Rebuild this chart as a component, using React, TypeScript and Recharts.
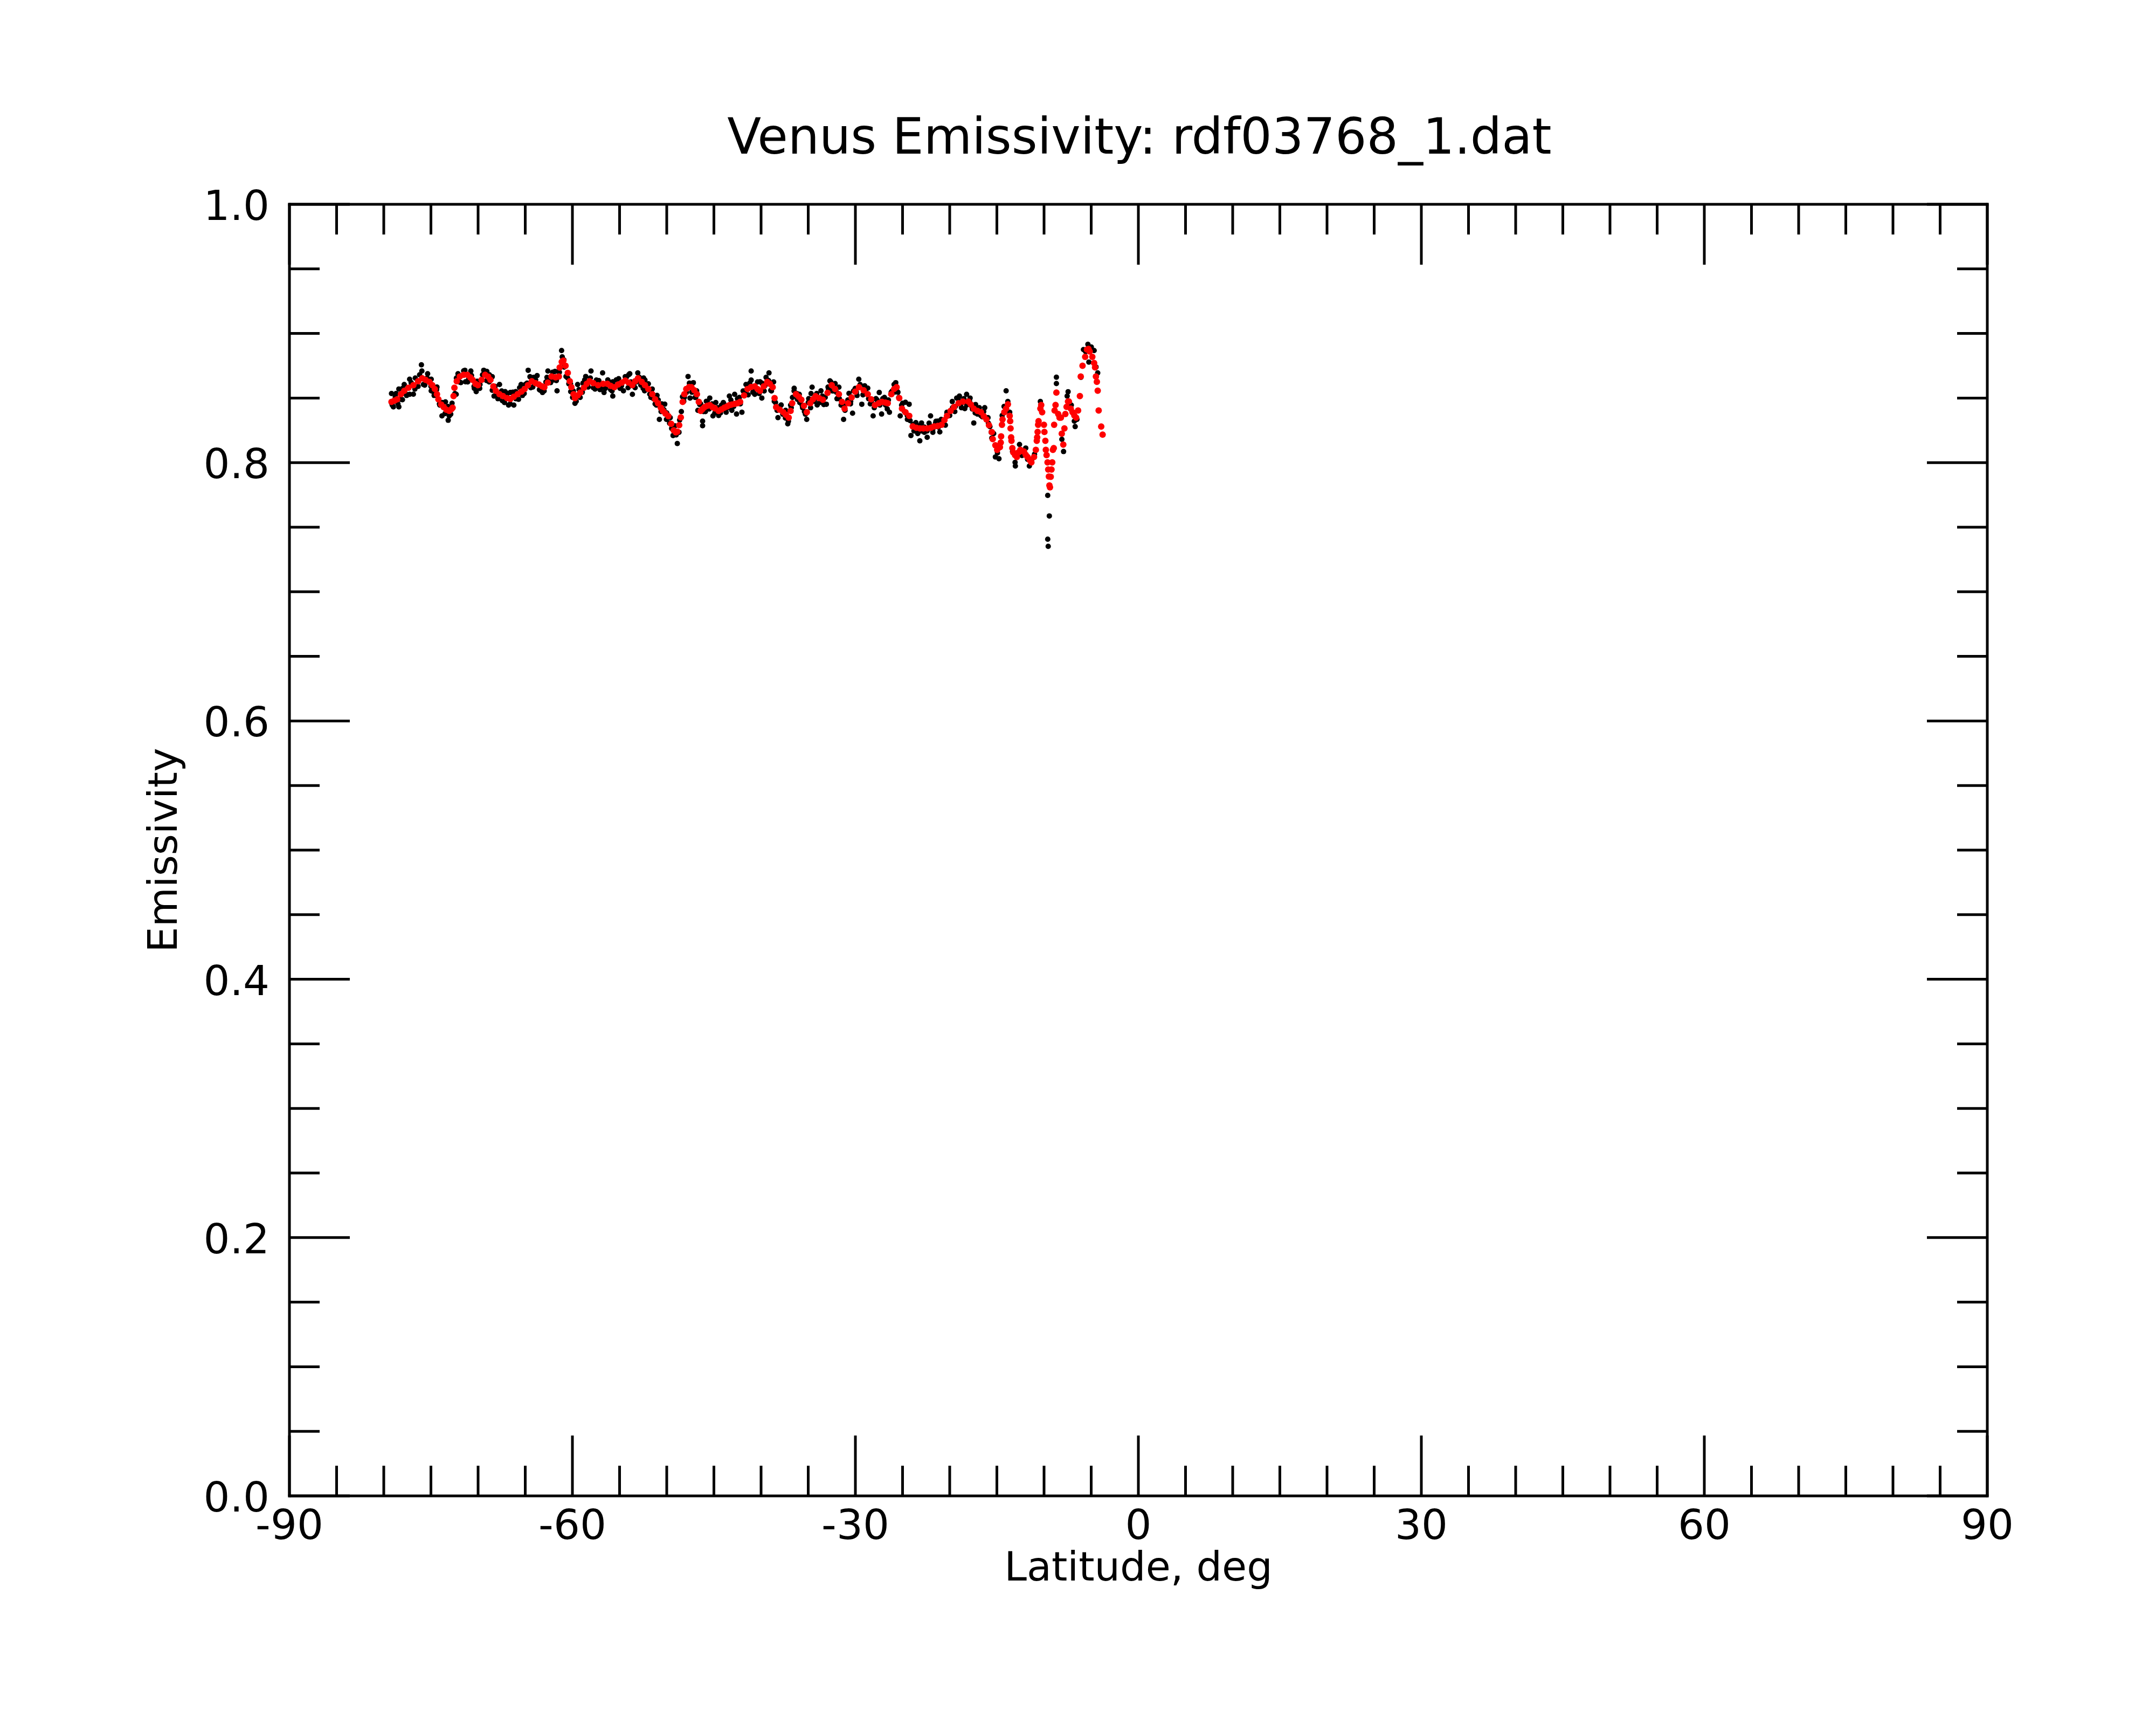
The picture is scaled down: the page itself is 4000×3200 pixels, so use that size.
import { ScatterChart, Scatter, XAxis, YAxis } from 'recharts';

// tick positions (degrees latitude / emissivity)
const xMajorTicks = [-90, -60, -30, 0, 30, 60, 90];
const xTicks = [
  -90, -85, -80, -75, -70, -65, -60, -55, -50, -45, -40, -35, -30, -25, -20, -15,
  -10, -5, 0, 5, 10, 15, 20, 25, 30, 35, 40, 45, 50, 55, 60, 65, 70, 75, 80, 85, 90,
];
const yTicks = [
  0, 0.05, 0.1, 0.15, 0.2, 0.25, 0.3, 0.35, 0.4, 0.45, 0.5, 0.55, 0.6, 0.65, 0.7,
  0.75, 0.8, 0.85, 0.9, 0.95, 1.0,
];

// smoothed emissivity (red), [latitude, emissivity]
const smoothed: [number, number][] = [
  [-79.18, 0.847], [-78.88, 0.848], [-78.58, 0.849], [-78.18, 0.853], [-77.83, 0.8556],
  [-77.38, 0.858], [-76.86, 0.86], [-76.36, 0.863], [-75.92, 0.8653], [-75.56, 0.864],
  [-75.16, 0.8625], [-74.86, 0.86], [-74.59, 0.857], [-74.36, 0.853], [-74.21, 0.849],
  [-73.91, 0.845], [-73.64, 0.843], [-73.36, 0.841], [-73.06, 0.84], [-72.81, 0.8415],
  [-72.7, 0.8425], [-72.6, 0.8515], [-72.51, 0.858], [-72.26, 0.863], [-71.94, 0.8667],
  [-71.53, 0.868], [-71.15, 0.868], [-70.83, 0.866], [-70.58, 0.864], [-70.28, 0.861],
  [-70.01, 0.86], [-69.63, 0.864], [-69.25, 0.868], [-68.93, 0.8665], [-68.69, 0.864],
  [-68.38, 0.859], [-68.12, 0.8556], [-67.73, 0.853], [-67.36, 0.8515], [-66.93, 0.85],
  [-66.58, 0.8493], [-66.21, 0.851], [-65.81, 0.853], [-65.41, 0.855], [-65.07, 0.857],
  [-64.71, 0.86], [-64.31, 0.863], [-63.91, 0.8615], [-63.55, 0.8605], [-63.21, 0.859],
  [-62.98, 0.8584], [-62.61, 0.862], [-62.21, 0.8667], [-61.78, 0.866], [-61.44, 0.8667],
  [-61.35, 0.8736], [-61.13, 0.878], [-60.96, 0.879], [-60.73, 0.875], [-60.49, 0.8695],
  [-60.28, 0.863], [-60.11, 0.8584], [-59.88, 0.853], [-59.73, 0.85], [-59.43, 0.852],
  [-59.16, 0.8542], [-58.78, 0.858], [-58.48, 0.861], [-58.18, 0.863], [-57.78, 0.8615],
  [-57.28, 0.86], [-56.75, 0.861], [-56.29, 0.861], [-55.95, 0.8595], [-55.55, 0.8584],
  [-55.15, 0.8605], [-54.75, 0.862], [-54.4, 0.8635], [-54.05, 0.862], [-53.65, 0.86],
  [-53.35, 0.863], [-53.05, 0.8653], [-52.65, 0.8625], [-52.31, 0.86], [-51.95, 0.857],
  [-51.53, 0.853], [-51.23, 0.849], [-50.93, 0.846], [-50.63, 0.8425], [-50.4, 0.84],
  [-50.13, 0.838], [-49.83, 0.836], [-49.53, 0.83], [-49.26, 0.825], [-49.03, 0.8235],
  [-48.88, 0.824], [-48.68, 0.829], [-48.51, 0.835], [-48.31, 0.847], [-48.13, 0.853],
  [-47.93, 0.857], [-47.63, 0.8585], [-47.38, 0.8584], [-47.08, 0.856], [-46.8, 0.853],
  [-46.6, 0.847], [-46.4, 0.84], [-46.2, 0.8415], [-46.0, 0.843], [-45.7, 0.844],
  [-45.44, 0.8445], [-45.15, 0.843], [-44.9, 0.842], [-44.5, 0.84], [-44.2, 0.8412],
  [-43.9, 0.8425], [-43.6, 0.8435], [-43.36, 0.8445], [-43.1, 0.845], [-42.8, 0.8455],
  [-42.5, 0.846], [-42.22, 0.847], [-41.8, 0.852], [-41.44, 0.857], [-41.07, 0.8585],
  [-40.67, 0.859], [-40.37, 0.857], [-40.11, 0.8556], [-39.72, 0.859], [-39.35, 0.8625],
  [-39.07, 0.861], [-38.77, 0.8584], [-38.57, 0.85], [-38.4, 0.843], [-38.02, 0.841],
  [-37.64, 0.839], [-37.37, 0.837], [-37.07, 0.8348], [-36.87, 0.84], [-36.7, 0.846],
  [-36.3, 0.853], [-36.0, 0.851], [-35.73, 0.8487], [-35.45, 0.844], [-35.15, 0.839],
  [-34.78, 0.846], [-34.5, 0.849], [-34.22, 0.8514], [-33.85, 0.85], [-33.45, 0.8487],
  [-32.95, 0.854], [-32.51, 0.86], [-32.15, 0.857], [-31.75, 0.853], [-31.42, 0.847],
  [-31.15, 0.8418], [-30.77, 0.846], [-30.4, 0.8505], [-30.02, 0.855], [-29.62, 0.8584],
  [-29.12, 0.856], [-28.69, 0.853], [-28.32, 0.849], [-27.93, 0.8445], [-27.52, 0.846],
  [-27.17, 0.847], [-26.82, 0.8465], [-26.57, 0.846], [-26.19, 0.853], [-25.89, 0.857],
  [-25.63, 0.8584], [-25.35, 0.85], [-25.06, 0.8418], [-24.69, 0.839], [-24.29, 0.8362],
  [-23.92, 0.828], [-23.54, 0.827], [-23.16, 0.8265], [-22.79, 0.8265], [-22.39, 0.8265],
  [-21.99, 0.827], [-21.65, 0.828], [-21.26, 0.8285], [-20.86, 0.8293], [-20.56, 0.833],
  [-20.29, 0.8362], [-19.91, 0.84], [-19.54, 0.8431], [-19.06, 0.846], [-18.59, 0.8472],
  [-18.02, 0.8472], [-17.76, 0.845], [-17.46, 0.8418], [-17.06, 0.84], [-16.69, 0.839],
  [-16.39, 0.836], [-16.11, 0.8335], [-15.84, 0.829], [-15.54, 0.8237],
  [-15.44, 0.8182], [-15.16, 0.8134], [-14.97, 0.8099], [-14.68, 0.812], [-14.59, 0.8155],
  [-14.55, 0.8203], [-14.46, 0.8293], [-14.4, 0.8335], [-14.21, 0.839], [-14.02, 0.8418],
  [-13.83, 0.8452], [-13.64, 0.8362], [-13.59, 0.8321], [-13.55, 0.8265], [-13.49, 0.8196],
  [-13.45, 0.8169], [-13.36, 0.8113], [-13.26, 0.8079], [-13.07, 0.8058], [-12.88, 0.8044],
  [-12.69, 0.808], [-12.51, 0.8099], [-12.32, 0.809], [-12.13, 0.8086], [-11.94, 0.806],
  [-11.75, 0.8044], [-11.51, 0.802], [-11.34, 0.8002], [-11.06, 0.8044], [-10.87, 0.8099],
  [-10.77, 0.8169], [-10.73, 0.8196], [-10.68, 0.8238], [-10.63, 0.8293], [-10.58, 0.8321],
  [-10.39, 0.8418], [-10.3, 0.8446], [-10.2, 0.839], [-10.01, 0.8293], [-9.96, 0.8238],
  [-9.86, 0.8169], [-9.81, 0.8099], [-9.73, 0.8058], [-9.63, 0.8002], [-9.56, 0.7947],
  [-9.49, 0.7892], [-9.43, 0.7823], [-9.37, 0.7809], [-9.29, 0.789], [-9.21, 0.7947],
  [-9.13, 0.8002], [-9.06, 0.8099], [-8.97, 0.8113], [-8.93, 0.8293], [-8.88, 0.8404],
  [-8.78, 0.8446], [-8.69, 0.8542], [-8.5, 0.8376], [-8.36, 0.8348], [-8.21, 0.8348],
  [-8.12, 0.8224], [-7.96, 0.814], [-7.84, 0.8265], [-7.74, 0.8376], [-7.61, 0.8432],
  [-7.46, 0.8473], [-7.36, 0.8473], [-7.17, 0.8418], [-6.98, 0.839], [-6.79, 0.8365],
  [-6.6, 0.8348], [-6.39, 0.8404], [-6.2, 0.8515], [-6.11, 0.8667], [-5.92, 0.875],
  [-5.64, 0.8819], [-5.45, 0.8875], [-5.29, 0.888], [-5.16, 0.8861], [-4.88, 0.8819],
  [-4.69, 0.8771], [-4.59, 0.8737], [-4.5, 0.8667], [-4.4, 0.8626], [-4.31, 0.8557],
  [-4.21, 0.8404], [-3.94, 0.8279], [-3.79, 0.8217],
];

// raw emissivity samples (black), [latitude, emissivity]
const raw: [number, number][] = [
  [-79.18, 0.8535], [-79.16, 0.846], [-78.98, 0.8432], [-78.78, 0.851], [-78.4, 0.857],
  [-78.4, 0.8432], [-78.18, 0.849], [-78.02, 0.8487], [-77.83, 0.8605], [-77.58, 0.852],
  [-77.26, 0.8646], [-77.26, 0.8529], [-76.86, 0.853], [-76.66, 0.8655], [-76.36, 0.859],
  [-76.01, 0.8757], [-75.96, 0.8709], [-75.66, 0.86], [-75.35, 0.8688], [-74.97, 0.8646],
  [-74.97, 0.8556], [-74.66, 0.852], [-74.36, 0.8585], [-74.06, 0.8445], [-73.83, 0.8362],
  [-73.46, 0.847], [-73.17, 0.8328], [-73.06, 0.8362], [-72.76, 0.846], [-72.46, 0.8535],
  [-72.32, 0.8529], [-72.13, 0.8688], [-71.83, 0.862], [-71.53, 0.871], [-71.34, 0.8626],
  [-71.03, 0.864], [-70.77, 0.8709], [-70.43, 0.859], [-70.2, 0.855], [-69.83, 0.8575],
  [-69.53, 0.868], [-69.07, 0.8706], [-68.83, 0.8625], [-68.5, 0.8665], [-68.31, 0.8515],
  [-67.93, 0.8525], [-67.73, 0.8605], [-67.43, 0.848], [-67.13, 0.855], [-66.77, 0.8445],
  [-66.58, 0.8543], [-66.21, 0.8445], [-66.01, 0.855], [-65.71, 0.849], [-65.44, 0.8605],
  [-65.11, 0.8535], [-64.81, 0.8615], [-64.69, 0.8715], [-64.41, 0.858], [-64.11, 0.866],
  [-63.74, 0.8674], [-63.41, 0.856], [-63.17, 0.8543], [-62.81, 0.8625], [-62.6, 0.8709],
  [-62.31, 0.862], [-62.01, 0.864], [-61.85, 0.8706], [-61.63, 0.8556], [-61.38, 0.87],
  [-61.15, 0.8868], [-61.08, 0.8819], [-60.88, 0.874], [-60.68, 0.8667], [-60.38, 0.861],
  [-60.18, 0.855], [-59.98, 0.8505], [-59.73, 0.8459], [-59.45, 0.8605], [-59.18, 0.8505],
  [-58.88, 0.8615], [-58.59, 0.8667], [-58.33, 0.8585], [-58.03, 0.8709], [-57.78, 0.858],
  [-57.46, 0.8639], [-57.08, 0.8565], [-56.8, 0.8695], [-56.65, 0.8543], [-56.25, 0.864],
  [-55.95, 0.8565], [-55.72, 0.8515], [-55.72, 0.8626], [-55.35, 0.864], [-54.95, 0.8575],
  [-54.59, 0.8556], [-54.25, 0.8665], [-54.02, 0.8681], [-53.92, 0.8688], [-53.64, 0.8529],
  [-53.35, 0.858], [-53.07, 0.8695], [-52.75, 0.86], [-52.45, 0.8655], [-52.35, 0.8556],
  [-52.31, 0.8639], [-51.95, 0.861], [-51.68, 0.8505], [-51.54, 0.857], [-51.23, 0.8455],
  [-51.03, 0.852], [-50.78, 0.8335], [-50.53, 0.8455], [-50.21, 0.8453], [-50.03, 0.8335],
  [-49.63, 0.8348], [-49.48, 0.8265], [-49.33, 0.821], [-49.13, 0.8285], [-48.88, 0.8148],
  [-48.63, 0.833], [-48.33, 0.851], [-48.13, 0.8505], [-47.74, 0.8667], [-47.53, 0.85],
  [-47.33, 0.8545], [-47.18, 0.8619], [-46.93, 0.8505], [-46.83, 0.8556], [-46.5, 0.845],
  [-46.2, 0.8286], [-46.2, 0.8321], [-45.9, 0.8395], [-45.7, 0.847], [-45.44, 0.85],
  [-45.1, 0.8362], [-44.8, 0.8465], [-44.5, 0.8365], [-44.2, 0.8445], [-43.93, 0.8452],
  [-43.7, 0.839], [-43.36, 0.8515], [-43.1, 0.8405], [-42.8, 0.8529], [-42.6, 0.8376],
  [-42.3, 0.8505], [-42.03, 0.839], [-41.7, 0.8555], [-41.37, 0.8525], [-41.05, 0.8709],
  [-41.05, 0.8639], [-40.87, 0.8545], [-40.67, 0.8529], [-40.37, 0.8625], [-40.11, 0.8626],
  [-39.92, 0.85], [-39.67, 0.8555], [-39.47, 0.866], [-39.16, 0.8695], [-38.97, 0.856],
  [-38.67, 0.8625], [-38.47, 0.8465], [-38.21, 0.8348], [-37.87, 0.8446], [-37.67, 0.839],
  [-37.42, 0.8345], [-37.17, 0.83], [-36.87, 0.8445], [-36.67, 0.8505], [-36.49, 0.8576],
  [-36.15, 0.849], [-35.95, 0.8529], [-35.65, 0.8445], [-35.4, 0.8395], [-35.16, 0.8335],
  [-34.95, 0.8495], [-34.75, 0.8425], [-34.59, 0.8584], [-34.35, 0.8475], [-34.05, 0.8446],
  [-33.65, 0.8556], [-33.35, 0.845], [-33.08, 0.8452], [-32.85, 0.857], [-32.7, 0.8633],
  [-32.45, 0.8555], [-32.15, 0.8612], [-31.95, 0.8495], [-31.75, 0.8584], [-31.52, 0.8445],
  [-31.25, 0.8335], [-31.02, 0.8455], [-30.68, 0.8536], [-30.52, 0.8455], [-30.3, 0.8383],
  [-30.02, 0.8575], [-29.82, 0.852], [-29.64, 0.8646], [-29.32, 0.8452], [-29.02, 0.8595],
  [-28.69, 0.8577], [-28.42, 0.8455], [-28.12, 0.8362], [-27.82, 0.8495], [-27.47, 0.8543],
  [-27.22, 0.8376], [-26.92, 0.8505], [-26.62, 0.8415], [-26.39, 0.839], [-26.09, 0.8555],
  [-25.89, 0.8545], [-25.72, 0.8619], [-25.49, 0.8545], [-25.25, 0.8362], [-24.99, 0.846],
  [-24.69, 0.8467], [-24.49, 0.8335], [-24.3, 0.8452], [-24.11, 0.821], [-23.79, 0.8245],
  [-23.59, 0.831], [-23.39, 0.8225], [-23.17, 0.8169], [-22.99, 0.8307], [-22.69, 0.8235],
  [-22.39, 0.8196], [-22.19, 0.8305], [-22.03, 0.8362], [-21.79, 0.8235], [-21.46, 0.832],
  [-21.26, 0.8321], [-21.05, 0.8238], [-20.76, 0.8325], [-20.46, 0.829], [-20.29, 0.839],
  [-20.06, 0.8365], [-19.73, 0.8473], [-19.46, 0.8395], [-19.26, 0.85], [-18.97, 0.8515],
  [-18.76, 0.8425], [-18.4, 0.8418], [-18.21, 0.8529], [-17.84, 0.85], [-17.66, 0.8435],
  [-17.45, 0.8307], [-17.26, 0.845], [-17.06, 0.8376], [-16.86, 0.8425], [-16.54, 0.8355],
  [-16.29, 0.8425], [-15.94, 0.8348], [-15.74, 0.8279], [-15.54, 0.819], [-15.34, 0.8225],
  [-15.16, 0.8044], [-14.94, 0.8075], [-14.78, 0.803], [-14.44, 0.8365], [-14.24, 0.8435],
  [-14.02, 0.8556], [-13.84, 0.8473], [-13.64, 0.839], [-13.34, 0.8085], [-13.07, 0.8002],
  [-13.04, 0.7974], [-12.84, 0.8075], [-12.6, 0.8141], [-12.34, 0.8055], [-11.94, 0.8113],
  [-11.74, 0.8025], [-11.56, 0.7974], [-11.31, 0.8025], [-11.01, 0.8065], [-10.39, 0.8473],
  [-9.61, 0.7746], [-9.61, 0.7407], [-9.56, 0.7352], [-9.44, 0.7587], [-8.69, 0.8661],
  [-8.69, 0.8612], [-8.11, 0.818], [-7.93, 0.8086], [-7.55, 0.8515], [-7.45, 0.8549],
  [-7.11, 0.8445], [-6.79, 0.8321], [-6.7, 0.8279], [-6.51, 0.8335], [-6.09, 0.866],
  [-5.82, 0.8875], [-5.59, 0.886], [-5.35, 0.8916], [-5.25, 0.8778], [-4.99, 0.8895],
  [-4.69, 0.8868], [-4.49, 0.874], [-4.31, 0.8695], [-4.31, 0.8556],
  // samples hugging the smoothed curve
  [-79.1, 0.8445], [-78.7, 0.8535], [-78.5, 0.8455], [-78.0, 0.8575], [-77.7, 0.8535],
  [-77.1, 0.862], [-76.7, 0.857], [-76.2, 0.868], [-75.8, 0.8605], [-75.4, 0.8655],
  [-75.0, 0.859], [-74.7, 0.8545], [-74.4, 0.8565], [-74.1, 0.8455], [-73.8, 0.8465],
  [-73.5, 0.838], [-73.2, 0.8435], [-72.9, 0.8375], [-72.3, 0.8655], [-72.0, 0.8625],
  [-71.4, 0.8715], [-71.1, 0.8625], [-70.7, 0.8675], [-70.4, 0.8575], [-70.1, 0.863],
  [-69.8, 0.8605], [-69.4, 0.8715], [-69.1, 0.8635], [-68.8, 0.868], [-68.5, 0.856],
  [-68.2, 0.859], [-67.9, 0.8495], [-67.5, 0.8555], [-67.2, 0.8465], [-66.9, 0.8535],
  [-66.6, 0.8455], [-66.3, 0.8545], [-66.0, 0.8495], [-65.6, 0.858], [-65.3, 0.852],
  [-65.0, 0.8605], [-64.5, 0.8665], [-64.2, 0.8585], [-63.9, 0.864], [-63.5, 0.8565],
  [-63.0, 0.8555], [-62.7, 0.866], [-62.4, 0.8635], [-62.1, 0.87], [-61.7, 0.8635],
  [-61.5, 0.8705], [-60.9, 0.8795], [-60.5, 0.8655], [-60.2, 0.861], [-59.9, 0.8555],
  [-59.6, 0.8475], [-59.3, 0.8565], [-58.95, 0.8545], [-58.7, 0.864], [-58.4, 0.86],
  [-58.1, 0.8655], [-57.6, 0.857], [-57.2, 0.8635], [-56.9, 0.858], [-56.5, 0.8575],
  [-56.1, 0.8625], [-55.8, 0.8555], [-55.5, 0.8595], [-55.1, 0.865], [-54.8, 0.8595],
  [-54.4, 0.8665], [-54.1, 0.858], [-53.8, 0.8625], [-53.5, 0.8595], [-53.2, 0.8625],
  [-52.9, 0.866], [-52.5, 0.8575], [-52.1, 0.8605], [-51.8, 0.853], [-51.4, 0.8495],
  [-51.1, 0.8445], [-50.9, 0.8485], [-50.6, 0.8395], [-50.3, 0.841], [-50.0, 0.8385],
  [-49.7, 0.8305], [-49.4, 0.8275], [-49.0, 0.8215], [-48.7, 0.8235], [-48.45, 0.8395],
  [-48.2, 0.8475], [-47.9, 0.8545], [-47.6, 0.8615], [-47.3, 0.8555], [-47.0, 0.8505],
  [-46.7, 0.8405], [-46.4, 0.8455], [-46.1, 0.8395], [-45.8, 0.8475], [-45.5, 0.8415],
  [-45.2, 0.8455], [-44.9, 0.8385], [-44.6, 0.8425], [-44.3, 0.8385], [-44.0, 0.8465],
  [-43.5, 0.8425], [-43.2, 0.8485], [-42.9, 0.8435], [-42.5, 0.8495], [-42.2, 0.8455],
  [-41.9, 0.8555], [-41.6, 0.8605], [-41.2, 0.8615], [-40.8, 0.8555], [-40.5, 0.8575],
  [-40.2, 0.8535], [-39.9, 0.8615], [-39.6, 0.8595], [-39.2, 0.8635], [-38.9, 0.8555],
  [-38.6, 0.8475], [-38.3, 0.8405], [-38.0, 0.8435], [-37.7, 0.8375], [-37.4, 0.8405],
  [-37.1, 0.832], [-36.8, 0.8425], [-36.5, 0.8555], [-36.2, 0.8535], [-35.9, 0.8465],
  [-35.6, 0.8425], [-35.3, 0.8375], [-35.0, 0.8465], [-34.7, 0.8535], [-34.4, 0.8495],
  [-34.1, 0.8535], [-33.8, 0.8465], [-33.5, 0.8515], [-33.2, 0.8505], [-32.9, 0.8585],
  [-32.6, 0.8625], [-32.3, 0.8555], [-32.0, 0.8545], [-31.7, 0.8495], [-31.4, 0.8445],
  [-31.1, 0.8405], [-30.8, 0.8485], [-30.5, 0.8475], [-30.2, 0.8555], [-29.9, 0.8545],
  [-29.5, 0.8605], [-29.2, 0.8525], [-28.9, 0.8545], [-28.6, 0.8495], [-28.3, 0.8475],
  [-28.0, 0.8425], [-27.7, 0.8485], [-27.4, 0.8445], [-27.1, 0.8495], [-26.8, 0.8445],
  [-26.5, 0.8485], [-26.2, 0.8545], [-25.9, 0.8605], [-25.6, 0.8555], [-25.4, 0.8505],
  [-25.1, 0.8445], [-24.8, 0.8395], [-24.5, 0.8365], [-24.2, 0.8325], [-23.9, 0.8295],
  [-23.6, 0.8245], [-23.3, 0.8285], [-23.0, 0.8245], [-22.7, 0.8275], [-22.4, 0.8245],
  [-22.1, 0.8285], [-21.8, 0.8255], [-21.5, 0.8305], [-21.2, 0.8275], [-20.9, 0.8335],
  [-20.6, 0.8325], [-20.3, 0.8385], [-20.0, 0.8365], [-19.7, 0.8425], [-19.4, 0.8435],
  [-19.1, 0.8495], [-18.8, 0.8455], [-18.5, 0.8495], [-18.2, 0.8445], [-17.9, 0.8475],
  [-17.6, 0.8415], [-17.3, 0.8385], [-17.0, 0.8415], [-16.7, 0.8365], [-16.4, 0.8395],
  [-16.1, 0.8335], [-15.9, 0.8305], [-15.6, 0.8235],
];

const FONT = '"DejaVu Sans", sans-serif';
const TICK_FONT = 77;
const MAJOR_LEN = 112;
const MINOR_LEN = 56;
const TICK_W = 5;

const rawPoints = raw.map(([lat, e]) => ({ lat, e }));
const smoothPoints = smoothed.map(([lat, e]) => ({ lat, e }));

const isMajorX = (v: number) => xMajorTicks.includes(v);
const isMajorY = (v: number) => Math.abs(v * 5 - Math.round(v * 5)) < 1e-6;

const BottomTick = ({ x, y, payload }: any) => {
  const major = isMajorX(payload.value);
  return (
    <g>
      <line x1={x} y1={y} x2={x} y2={y - (major ? MAJOR_LEN : MINOR_LEN)} stroke="#000" strokeWidth={TICK_W} />
      {major && (
        <text x={x} y={y + 80} textAnchor="middle" fontSize={TICK_FONT} fontFamily={FONT} fill="#000">
          {payload.value}
        </text>
      )}
    </g>
  );
};

const TopTick = ({ x, y, payload }: any) => {
  const major = isMajorX(payload.value);
  return <line x1={x} y1={y} x2={x} y2={y + (major ? MAJOR_LEN : MINOR_LEN)} stroke="#000" strokeWidth={TICK_W} />;
};

const LeftTick = ({ x, y, payload }: any) => {
  const major = isMajorY(payload.value);
  return (
    <g>
      <line x1={x} y1={y} x2={x + (major ? MAJOR_LEN : MINOR_LEN)} y2={y} stroke="#000" strokeWidth={TICK_W} />
      {major && (
        <text x={x - 37} y={y + 29} textAnchor="end" fontSize={TICK_FONT} fontFamily={FONT} fill="#000">
          {payload.value.toFixed(1)}
        </text>
      )}
    </g>
  );
};

const RightTick = ({ x, y, payload }: any) => {
  const major = isMajorY(payload.value);
  return <line x1={x} y1={y} x2={x - (major ? MAJOR_LEN : MINOR_LEN)} y2={y} stroke="#000" strokeWidth={TICK_W} />;
};

const Dot = (color: string, r: number) => (props: any) => <circle cx={props.cx} cy={props.cy} r={r} fill={color} />;

const frame = { stroke: '#000', strokeWidth: 5, strokeLinecap: 'square' as const };

const App = () => {
  return (
    <div style={{ position: 'absolute', left: 0, top: 0, width: 4000, height: 3200, background: '#fff' }}>
      <ScatterChart width={4000} height={3200} margin={{ top: 378, right: 312, bottom: 275, left: 337 }}>
        <XAxis
          xAxisId="b"
          type="number"
          dataKey="lat"
          domain={[-90, 90]}
          ticks={xTicks}
          interval={0}
          height={150}
          tickSize={0}
          tickMargin={0}
          tickLine={false}
          axisLine={frame}
          tick={<BottomTick />}
          allowDataOverflow
        />
        <XAxis
          xAxisId="t"
          orientation="top"
          type="number"
          dataKey="lat"
          domain={[-90, 90]}
          ticks={xTicks}
          interval={0}
          height={1}
          tickSize={0}
          tickMargin={0}
          tickLine={false}
          axisLine={frame}
          tick={<TopTick />}
          allowDataOverflow
        />
        <YAxis
          yAxisId="l"
          type="number"
          dataKey="e"
          domain={[0, 1]}
          ticks={yTicks}
          interval={0}
          width={200}
          tickSize={0}
          tickMargin={0}
          tickLine={false}
          axisLine={frame}
          tick={<LeftTick />}
          allowDataOverflow
        />
        <YAxis
          yAxisId="r"
          orientation="right"
          type="number"
          dataKey="e"
          domain={[0, 1]}
          ticks={yTicks}
          interval={0}
          width={1}
          tickSize={0}
          tickMargin={0}
          tickLine={false}
          axisLine={frame}
          tick={<RightTick />}
          allowDataOverflow
        />
        <Scatter xAxisId="b" yAxisId="l" data={rawPoints} shape={Dot('#000', 5)} isAnimationActive={false} />
        <Scatter xAxisId="t" yAxisId="r" data={smoothPoints} shape={Dot('#ff0000', 6)} isAnimationActive={false} />
      </ScatterChart>
      <svg width={4000} height={3200} style={{ position: 'absolute', left: 0, top: 0, pointerEvents: 'none' }}>
        <text x={2114} y={285} textAnchor="middle" fontSize={92} fontFamily={FONT} fill="#000">
          Venus Emissivity: rdf03768_1.dat
        </text>
        <text x={2112} y={2932} textAnchor="middle" fontSize={75} fontFamily={FONT} fill="#000">
          Latitude, deg
        </text>
        <text
          x={328}
          y={1577}
          transform="rotate(-90 328 1577)"
          textAnchor="middle"
          fontSize={75}
          fontFamily={FONT}
          fill="#000"
        >
          Emissivity
        </text>
      </svg>
    </div>
  );
};

export default App;
